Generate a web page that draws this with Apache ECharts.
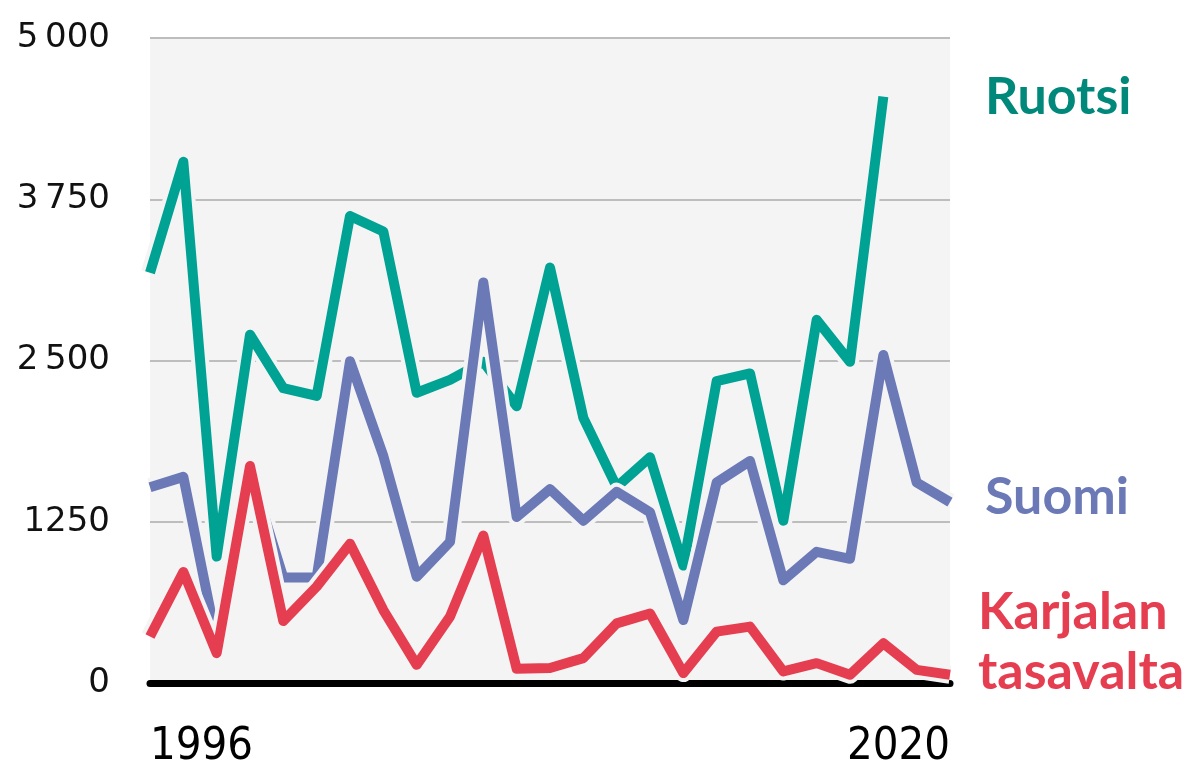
<!DOCTYPE html>
<html>
<head>
<meta charset="utf-8">
<script src="https://cdn.jsdelivr.net/npm/echarts@6/dist/echarts.min.js"></script>
<style>
  html, body { margin: 0; padding: 0; background: #fff; }
  #chart { width: 1201px; height: 770px; }
</style>
</head>
<body>
<div id="chart"></div>
<script>
// data
var years = ["1996", "1997", "1998", "1999", "2000", "2001", "2002", "2003", "2004", "2005",
    "2006", "2007", "2008", "2009", "2010", "2011", "2012", "2013", "2014", "2015",
    "2016", "2017", "2018", "2019", "2020"];
var ruotsi = [3180, 4040, 980, 2700, 2285, 2225, 3620, 3500, 2250, 2350,
    2490, 2145, 3220, 2055, 1520, 1750, 910, 2340, 2400, 1258,
    2815, 2490, 4546, null, null];
var suomi = [1518, 1598, 320, 1650, 817, 817, 2495, 1760, 824, 1094,
    3105, 1287, 1503, 1258, 1482, 1323, 488, 1554, 1721, 796,
    1017, 963, 2543, 1554, 1402];
var karjala = [360, 861, 231, 1682, 480, 747, 1079, 565, 141, 514,
    1143, 110, 116, 193, 462, 539, 77, 398, 437, 90,
    154, 64, 308, 102, 64];
var yTicks = { 0: "0", 1250: "1250", 2500: "2\u2009500", 3750: "3\u2009750", 5000: "5\u2009000" };

var halo = "#f4f4f4";

function lineSeries(name, data, color, width, z) {
    return {
        name: name,
        type: "line",
        data: data,
        z: z,
        clip: false,
        symbol: "none",
        silent: true,
        lineStyle: { color: color, width: width, join: "round", cap: "butt" },
    };
}

var myChart = echarts.init(document.getElementById("chart"), null, { renderer: "canvas" });

var option = {
    animation: false,
    grid: {
        left: 150,
        right: 251,
        top: 38,
        bottom: 85,
        show: true,
        backgroundColor: "#f4f4f4",
        borderWidth: 0,
    },
    xAxis: {
        type: "category",
        data: years,
        boundaryGap: false,
        axisTick: { show: false },
        axisLine: { lineStyle: { color: "#000", width: 7 } },
        axisLabel: {
            interval: function (i) { return i === 0 || i === years.length - 1; },
            alignMinLabel: "left",
            alignMaxLabel: "right",
            fontFamily: "'DejaVu Sans Condensed', sans-serif",
            fontSize: 45,
            color: "#000",
            margin: 42,
        },
    },
    yAxis: {
        type: "value",
        min: 0,
        max: 5000,
        interval: 1250,
        axisLine: { show: false },
        axisTick: { show: false },
        splitLine: { lineStyle: { color: "#bdbdbd", width: 2 } },
        axisLabel: {
            formatter: function (v) { return yTicks[v]; },
            fontFamily: "'DejaVu Sans', sans-serif",
            fontSize: 34,
            color: "#111",
            margin: 40,
        },
    },
    series: [
        lineSeries("Ruotsi halo", ruotsi, halo, 18, 2),
        lineSeries("Ruotsi", ruotsi, "#00a294", 10, 3),
        lineSeries("Suomi halo", suomi, halo, 18, 4),
        lineSeries("Suomi", suomi, "#6b79b6", 10, 5),
        lineSeries("Karjalan tasavalta halo", karjala, halo, 18, 6),
        lineSeries("Karjalan tasavalta", karjala, "#e63e51", 10, 7),
    ],
    graphic: [
        {
            type: "text", left: 985, top: 71,
            style: { text: "Ruotsi", fill: "#00897b", font: "bold 52px Lato, 'Open Sans', sans-serif" },
        },
        {
            type: "text", left: 985, top: 471,
            style: { text: "Suomi", fill: "#6b79b6", font: "bold 52px Lato, 'Open Sans', sans-serif" },
        },
        {
            type: "text", left: 978, top: 586,
            style: { text: "Karjalan", fill: "#e63e51", font: "bold 52px Lato, 'Open Sans', sans-serif" },
        },
        {
            type: "text", left: 978, top: 646,
            style: { text: "tasavalta", fill: "#e63e51", font: "bold 52px Lato, 'Open Sans', sans-serif" },
        },
    ],
};
myChart.setOption(option);
</script>
</body>
</html>
